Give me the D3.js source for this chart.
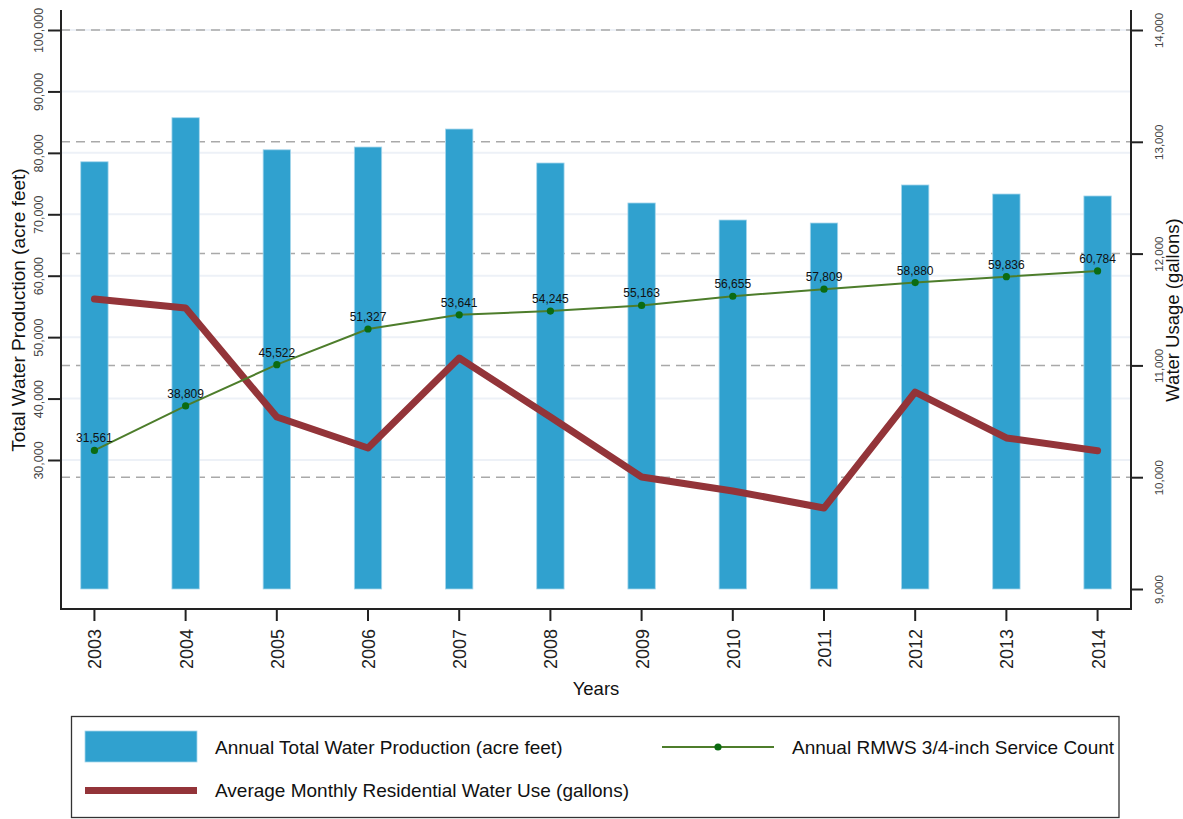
<!DOCTYPE html>
<html>
<head>
<meta charset="utf-8">
<script src="https://cdn.jsdelivr.net/npm/d3@7"></script>
<style>
  body { margin: 0; background: #fff; }
  svg { font-family: "Liberation Sans", Arial, sans-serif; }
</style>
</head>
<body>
<svg id="chart" width="1183" height="819"></svg>
<script>
//  data
const years = [2003, 2004, 2005, 2006, 2007, 2008, 2009, 2010, 2011, 2012, 2013, 2014];
const production = [78550, 85720, 80500, 80950, 83880, 78350, 71840, 69070, 68580, 74770, 73300, 72980];
const residential_use = [11594, 11513, 10538, 10261, 11066, 10538, 10002, 9877, 9724, 10762, 10351, 10237];
const service_count = [31561, 38809, 45522, 51327, 53641, 54245, 55163, 56655, 57809, 58880, 59836, 60784];
const left_ticks = [30000, 40000, 50000, 60000, 70000, 80000, 90000, 100000];
const right_ticks = [9000, 10000, 11000, 12000, 13000, 14000];
const bar_base = 9000;

const legend_labels = [
  "Annual Total Water Production (acre feet)",
  "Average Monthly Residential Water Use (gallons)",
  "Annual RMWS 3/4-inch Service Count"
];

//  draw
function draw_chart() {
  const plot = ({left: 61, right: 1131, top: 10, bottom: 609});
  const svg = d3.select("#chart");
  svg.selectAll('*').remove();

  const x = d3.scaleBand().domain(years).range([plot.left, plot.right])
    .paddingInner(0.7).paddingOuter(0.2165);
  const cx = d => x(d) + x.bandwidth() / 2;
  const yLeft = d3.scaleLinear().domain([30000, 100000]).range([460, 30]);
  const yRight = d3.scaleLinear().domain([9000, 14000]).range([589, 30]);
  const fmt = d3.format(",");

  // light grid (left axis)
  svg.append("g").selectAll("line").data(left_ticks).join("line")
    .attr("x1", plot.left).attr("x2", plot.right)
    .attr("y1", d => yLeft(d)).attr("y2", d => yLeft(d))
    .attr("stroke", "#edf1f7").attr("stroke-width", 2);

  // dashed grid (right axis)
  svg.append("g").selectAll("line").data(right_ticks.slice(1)).join("line")
    .attr("x1", plot.left).attr("x2", plot.right)
    .attr("y1", d => yRight(d)).attr("y2", d => yRight(d))
    .attr("stroke", "#a9a9a9").attr("stroke-width", 1.5)
    .attr("stroke-dasharray", "9,6");

  // bars
  svg.append("g").selectAll("rect").data(years).join("rect")
    .attr("x", d => x(d))
    .attr("width", x.bandwidth())
    .attr("y", (d, i) => yLeft(production[i]))
    .attr("height", (d, i) => yLeft(bar_base) - yLeft(production[i]))
    .attr("fill", "#30a1cf")
    .attr("stroke", "#a6d6ec").attr("stroke-width", 0.8);

  // red line (right axis)
  svg.append("path")
    .datum(years)
    .attr("fill", "none")
    .attr("stroke", "#933439")
    .attr("stroke-width", 7)
    .attr("stroke-linecap", "round")
    .attr("stroke-linejoin", "round")
    .attr("d", d3.line().x(d => cx(d)).y((d, i) => yRight(residential_use[i])));

  // green line (left axis)
  svg.append("path")
    .datum(years)
    .attr("fill", "none")
    .attr("stroke", "#4d7d2b")
    .attr("stroke-width", 2)
    .attr("d", d3.line().x(d => cx(d)).y((d, i) => yLeft(service_count[i])));

  svg.append("g").selectAll("circle").data(years).join("circle")
    .attr("cx", d => cx(d))
    .attr("cy", (d, i) => yLeft(service_count[i]))
    .attr("r", 3.6)
    .attr("fill", "#0b6b12");

  svg.append("g").selectAll("text").data(years).join("text")
    .attr("x", d => cx(d))
    .attr("y", (d, i) => yLeft(service_count[i]) - 8)
    .attr("text-anchor", "middle")
    .attr("font-size", 12)
    .attr("fill", "#111")
    .text((d, i) => fmt(service_count[i]));

  // axes
  const yAxisLeft = svg.append("g")
    .attr("transform", `translate(${plot.left},0)`)
    .call(d3.axisLeft(yLeft).tickValues(left_ticks).tickSize(13).tickFormat(fmt));
  yAxisLeft.select(".domain").remove();
  yAxisLeft.selectAll("line").attr("stroke", "#222").attr("stroke-width", 2);
  yAxisLeft.selectAll("text")
    .attr("x", 0).attr("dy", 0)
    .attr("text-anchor", "middle")
    .attr("transform", "translate(-18,0) rotate(-90)")
    .attr("font-size", 12.5)
    .attr("fill", "#444");

  const yAxisRight = svg.append("g")
    .attr("transform", `translate(${plot.right},0)`)
    .call(d3.axisRight(yRight).tickValues(right_ticks).tickSize(12).tickFormat(fmt));
  yAxisRight.select(".domain").remove();
  yAxisRight.selectAll("line").attr("stroke", "#222").attr("stroke-width", 2);
  yAxisRight.selectAll("text")
    .attr("x", 0).attr("dy", 0)
    .attr("text-anchor", "middle")
    .attr("transform", "translate(32,0) rotate(-90)")
    .attr("font-size", 11.5)
    .attr("fill", "#444");

  const xAxis = svg.append("g")
    .attr("transform", `translate(0,${plot.bottom})`)
    .call(d3.axisBottom(x).tickSize(12).tickSizeOuter(0));
  xAxis.select(".domain").remove();
  xAxis.selectAll("line").attr("stroke", "#222").attr("stroke-width", 2);
  xAxis.selectAll("text")
    .attr("x", 0).attr("y", 0).attr("dy", 0)
    .attr("text-anchor", "end")
    .attr("transform", "translate(7,20) rotate(-90)")
    .attr("font-size", 18)
    .attr("fill", "#222");

  // frame
  svg.append("path")
    .attr("d", `M${plot.left},${plot.top}V${plot.bottom}H${plot.right}V${plot.top}`)
    .attr("fill", "none").attr("stroke", "#222").attr("stroke-width", 2);

  // titles
  svg.append("text")
    .attr("transform", "translate(25,310) rotate(-90)")
    .attr("text-anchor", "middle").attr("font-size", 19).attr("fill", "#111")
    .text("Total Water Production (acre feet)");
  svg.append("text")
    .attr("transform", "translate(1179,310) rotate(-90)")
    .attr("text-anchor", "middle").attr("font-size", 18.5).attr("fill", "#111")
    .text("Water Usage (gallons)");
  svg.append("text")
    .attr("x", 596).attr("y", 695)
    .attr("text-anchor", "middle").attr("font-size", 18.5).attr("fill", "#111")
    .text("Years");

  // legend
  const legend = svg.append("g");
  legend.append("rect")
    .attr("x", 71.5).attr("y", 716.5).attr("width", 1047.5).attr("height", 101)
    .attr("fill", "#fff").attr("stroke", "#333").attr("stroke-width", 1.3);

  legend.append("rect")
    .attr("x", 85).attr("y", 731).attr("width", 112).attr("height", 31)
    .attr("fill", "#30a1cf").attr("stroke", "#a6d6ec").attr("stroke-width", 0.8);
  legend.append("text")
    .attr("x", 215).attr("y", 753.5).attr("font-size", 19).attr("fill", "#111")
    .text(legend_labels[0]);

  legend.append("line")
    .attr("x1", 85).attr("x2", 197).attr("y1", 790.5).attr("y2", 790.5)
    .attr("stroke", "#933439").attr("stroke-width", 7);
  legend.append("text")
    .attr("x", 215).attr("y", 797).attr("font-size", 19).attr("fill", "#111")
    .text(legend_labels[1]);

  legend.append("line")
    .attr("x1", 662).attr("x2", 774).attr("y1", 747).attr("y2", 747)
    .attr("stroke", "#4d7d2b").attr("stroke-width", 2);
  legend.append("circle")
    .attr("cx", 718).attr("cy", 747).attr("r", 3.6).attr("fill", "#0b6b12");
  legend.append("text")
    .attr("x", 792).attr("y", 753.5).attr("font-size", 19).attr("fill", "#111")
    .text(legend_labels[2]);
}

//  main
draw_chart();
</script>
</body>
</html>
